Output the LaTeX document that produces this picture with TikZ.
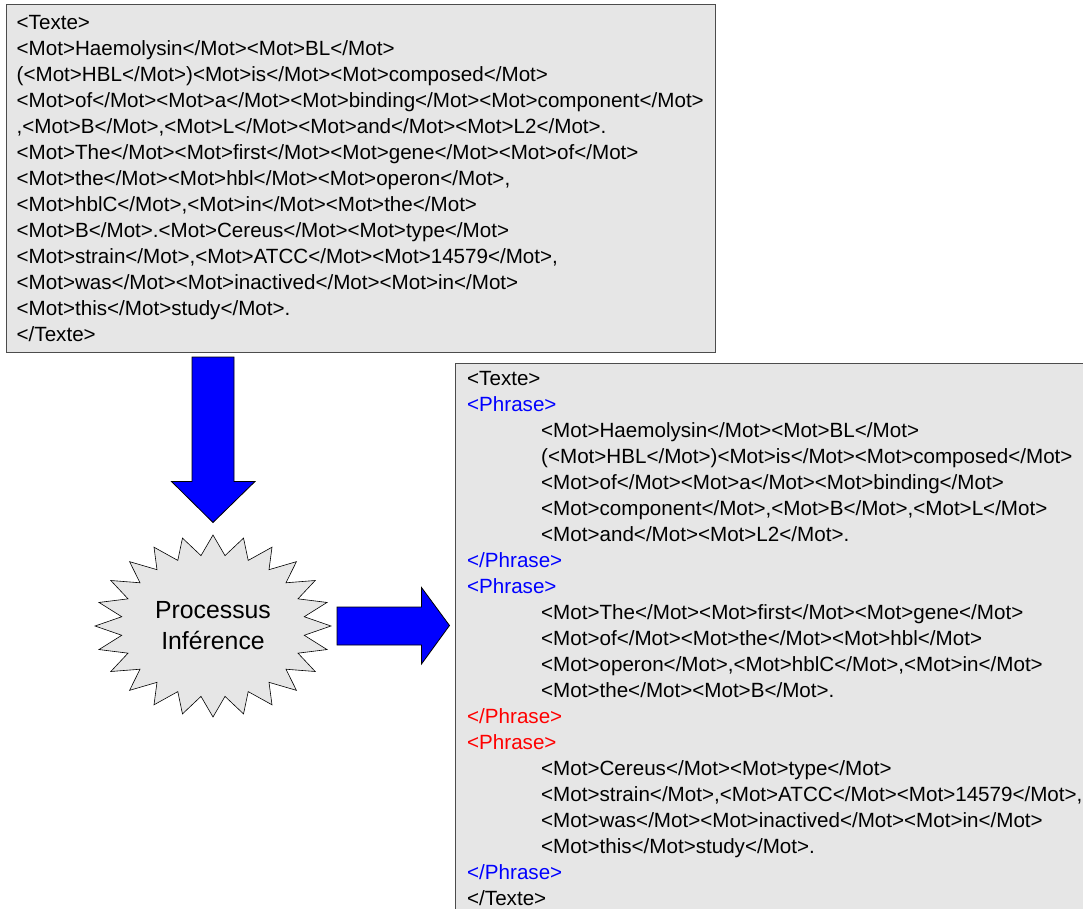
\documentclass[tikz,border=0pt]{standalone}
\usepackage{fontspec}
\setmainfont{Liberation Sans}
\usetikzlibrary{positioning}
\definecolor{boxgray}{RGB}{230,230,230}
\definecolor{tagblue}{RGB}{0,0,255}
\definecolor{tagred}{RGB}{255,0,0}
\newcommand{\ind}{\hspace*{74pt}}
\newcommand{\bph}[1]{\textcolor{tagblue}{#1}}
\newcommand{\rph}[1]{\textcolor{tagred}{#1}}

\begin{document}
\begin{tikzpicture}[x=1pt,y=-1pt,
    xmlbox/.style={rectangle,draw=black!70,fill=boxgray,anchor=north west,
      align=left,inner ysep=0pt,font=\fontsize{20.6}{26}\selectfont},
    bigarrow/.style={draw=black,fill=tagblue,line width=0.8pt}]
  \clip (0,0) rectangle (1083,909);
  % texte d'entree
  \node[xmlbox,inner xsep=10.5pt,text width=688pt,minimum height=348pt] (entree) at (6,4)
  {<Texte>\\
    <Mot>Haemolysin</Mot><Mot>BL</Mot>\\
    (<Mot>HBL</Mot>)<Mot>is</Mot><Mot>composed</Mot>\\
    <Mot>of</Mot><Mot>a</Mot><Mot>binding</Mot><Mot>component</Mot>\\
    ,<Mot>B</Mot>,<Mot>L</Mot><Mot>and</Mot><Mot>L2</Mot>.\\
    <Mot>The</Mot><Mot>first</Mot><Mot>gene</Mot><Mot>of</Mot>\\
    <Mot>the</Mot><Mot>hbl</Mot><Mot>operon</Mot>,\\
    <Mot>hblC</Mot>,<Mot>in</Mot><Mot>the</Mot>\\
    <Mot>B</Mot>.<Mot>Cereus</Mot><Mot>type</Mot>\\
    <Mot>strain</Mot>,<Mot>ATCC</Mot><Mot>14579</Mot>,\\
    <Mot>was</Mot><Mot>inactived</Mot><Mot>in</Mot>\\
    <Mot>this</Mot>study</Mot>.\\
    </Texte>};
  % texte en sortie
  \node[xmlbox,inner xsep=12pt,text width=640pt,minimum height=551pt] (sortie) at (455,363)
  {<Texte>\\
    \bph{<Phrase>}\\
    \ind<Mot>Haemolysin</Mot><Mot>BL</Mot>\\
    \ind(<Mot>HBL</Mot>)<Mot>is</Mot><Mot>composed</Mot>\\
    \ind<Mot>of</Mot><Mot>a</Mot><Mot>binding</Mot>\\
    \ind<Mot>component</Mot>,<Mot>B</Mot>,<Mot>L</Mot>\\
    \ind<Mot>and</Mot><Mot>L2</Mot>.\\
    \bph{</Phrase>}\\
    \bph{<Phrase>}\\
    \ind<Mot>The</Mot><Mot>first</Mot><Mot>gene</Mot>\\
    \ind<Mot>of</Mot><Mot>the</Mot><Mot>hbl</Mot>\\
    \ind<Mot>operon</Mot>,<Mot>hblC</Mot>,<Mot>in</Mot>\\
    \ind<Mot>the</Mot><Mot>B</Mot>.\\
    \rph{</Phrase>}\\
    \rph{<Phrase>}\\
    \ind<Mot>Cereus</Mot><Mot>type</Mot>\\
    \ind<Mot>strain</Mot>,<Mot>ATCC</Mot><Mot>14579</Mot>,\\
    \ind<Mot>was</Mot><Mot>inactived</Mot><Mot>in</Mot>\\
    \ind<Mot>this</Mot>study</Mot>.\\
    \bph{</Phrase>}\\
    </Texte>};
  % processus
  \coordinate (centre) at (213,626);
  \draw[fill=boxgray,line width=0.6pt,shift={(centre)}] (0:118 and 91)
    \foreach \a in {0,15,...,345} { -- ({\a+7.5}:92 and 71) -- ({\a+15}:118 and 91) } -- cycle;
  \node[font=\fontsize{24.8}{31}\selectfont,align=center] (proc) at (centre) {Processus\\Inférence};
  % fleches
  \draw[bigarrow] (192,357) -- (234,357) -- (234,481.5) -- (255,481.5) -- (213,522.5)
    -- (171.5,481.5) -- (192,481.5) -- cycle;
  \draw[bigarrow] (337,607) -- (421.5,607) -- (421.5,587.5) -- (449.5,625.5)
    -- (421.5,664) -- (421.5,645) -- (337,645) -- cycle;
\end{tikzpicture}
\end{document}
